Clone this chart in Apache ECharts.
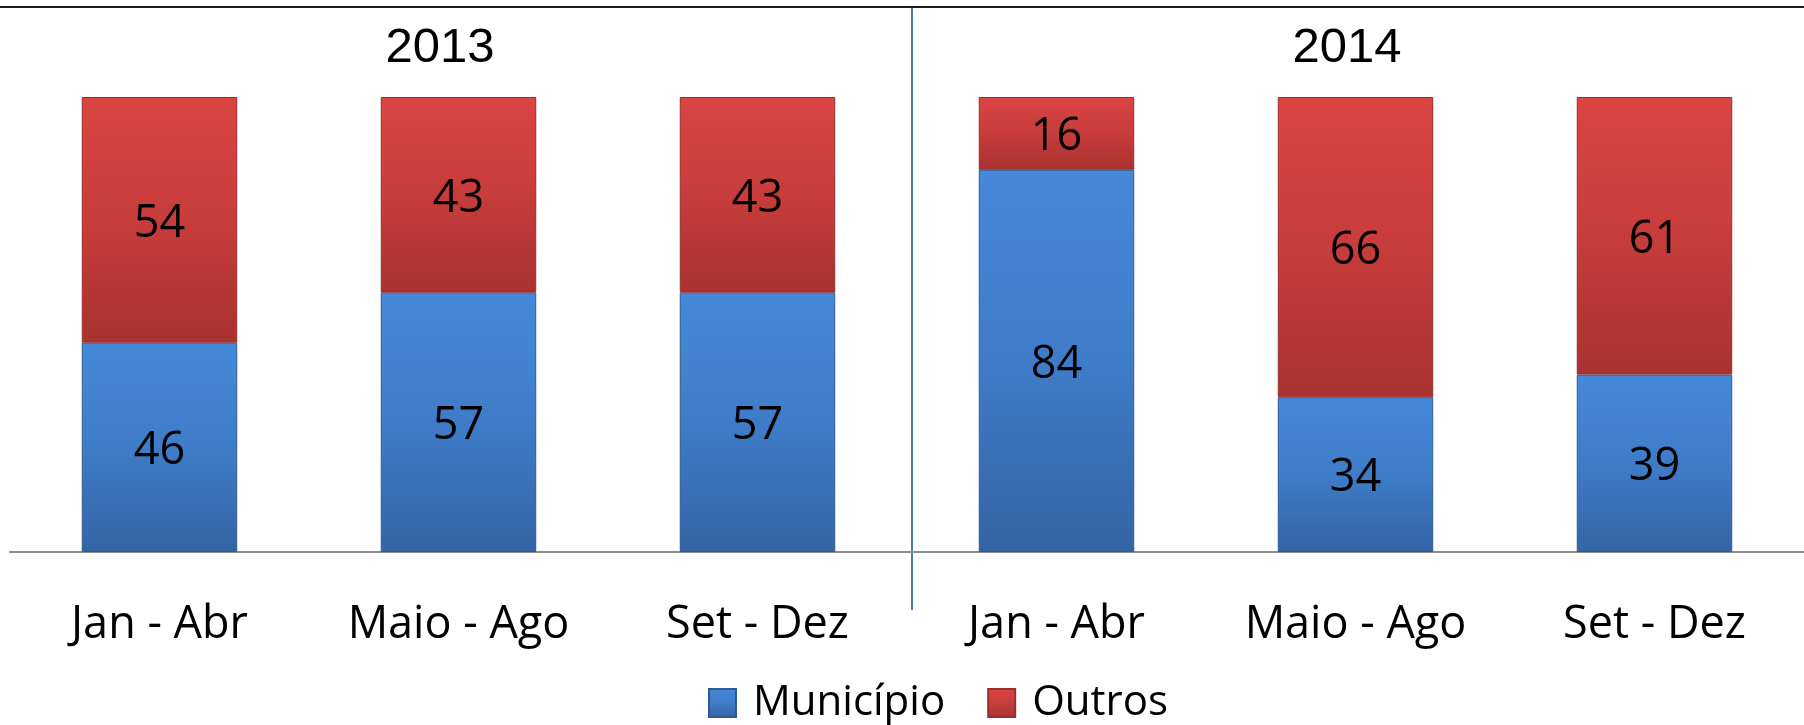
<!DOCTYPE html>
<html>
<head>
<meta charset="utf-8">
<script src="https://cdn.jsdelivr.net/npm/echarts@6/dist/echarts.min.js"></script>
<style>
html,body{margin:0;padding:0;background:#fff;}
#main{width:1804px;height:725px;}
</style>
</head>
<body>
<div id="main"></div>
<script>
// dados
var periodos = ['Jan - Abr', 'Maio - Ago', 'Set - Dez', 'Jan - Abr', 'Maio - Ago', 'Set - Dez'];
var anos = ['2013', '2014'];
var municipio = [46, 57, 57, 84, 34, 39];
var outros = [54, 43, 43, 16, 66, 61];

var labelFont = '"Open Sans", Lato, sans-serif';

function grad(top, mid, bottom){
    return new echarts.graphic.LinearGradient(0, 0, 0, 1, [
        {offset: 0, color: top},
        {offset: 0.5, color: mid},
        {offset: 1, color: bottom}
    ]);
}

var myChart = echarts.init(document.getElementById('main'));

var opt = {
    animation: false,
    grid: {left: 10, right: -7, top: 97, bottom: 173},
    legend: {
        left: 703,
        top: 677,
        itemWidth: 27,
        itemHeight: 28,
        itemGap: 42,
        icon: 'rect',
        textStyle: {fontFamily: labelFont, fontSize: 42, color: '#000', padding: [0, 0, 0, 12]},
        data: ['Município', 'Outros']
    },
    xAxis: [{
        type: 'category',
        data: periodos,
        axisLine: {lineStyle: {color: '#8c8c8c', width: 2}},
        axisTick: {show: false},
        axisLabel: {fontFamily: labelFont, fontSize: 45, color: '#000', margin: 51, interval: 0}
    }],
    yAxis: [{
        type: 'value',
        min: 0,
        max: 100,
        show: false
    }],
    series: [{
        name: 'Município',
        type: 'bar',
        stack: 'total',
        barWidth: '52%',
        data: municipio,
        itemStyle: {
            color: grad('#4689d9', '#3f7cc8', '#3464a5'),
            borderColor: '#2f5b94',
            borderWidth: 1
        },
        label: {show: true, position: 'inside', offset: [0, 4], fontFamily: labelFont, fontSize: 45, color: '#000'}
    }, {
        name: 'Outros',
        type: 'bar',
        stack: 'total',
        barWidth: '52%',
        data: outros,
        itemStyle: {
            color: grad('#db4542', '#c73d3b', '#a83230'),
            borderColor: '#963030',
            borderWidth: 1
        },
        label: {show: true, position: 'inside', offset: [0, 4], fontFamily: labelFont, fontSize: 45, color: '#000'}
    }],
    graphic: [
        {type: 'line', shape: {x1: 0, y1: 7, x2: 1804, y2: 7}, style: {stroke: '#1a1a1a', lineWidth: 2}},
        {type: 'line', shape: {x1: 912, y1: 8, x2: 912, y2: 610}, style: {stroke: '#4a7ebb', lineWidth: 2}},
        {type: 'text', x: 440, y: 48, style: {text: anos[0], font: '49px "Liberation Sans", Arial', fill: '#000', align: 'center', verticalAlign: 'middle'}},
        {type: 'text', x: 1347, y: 48, style: {text: anos[1], font: '49px "Liberation Sans", Arial', fill: '#000', align: 'center', verticalAlign: 'middle'}}
    ]
};

myChart.setOption(opt);
</script>
</body>
</html>
